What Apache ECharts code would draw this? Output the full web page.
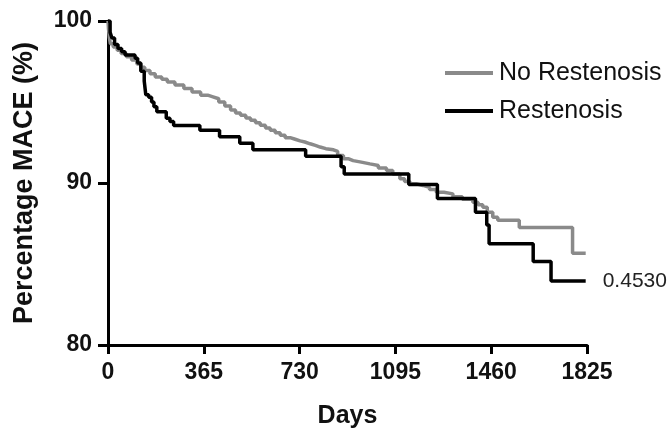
<!DOCTYPE html>
<html>
<head>
<meta charset="utf-8">
<script src="https://cdn.jsdelivr.net/npm/echarts@6/dist/echarts.min.js"></script>
<style>html,body{margin:0;padding:0;background:#fff}#c{width:670px;height:431px}</style>
</head>
<body>
<div id="c"></div>
<script>
var xTicks = [0, 365, 730, 1095, 1460, 1825];
var yTicks = [80, 90, 100];
var seriesNames = ['No Restenosis', 'Restenosis'];
var pValueText = '0.4530';

var noRestDays = [0, 2, 5, 9, 20, 35, 50, 70, 90, 110, 125, 140, 160, 180, 205, 226, 255, 289, 320, 353, 380, 400, 422, 445, 467, 486, 505, 525, 543, 562, 580, 600, 618, 637, 656, 675, 694, 713, 732, 750, 770, 790, 808, 830, 859, 875, 897, 915, 934, 965, 998, 1030, 1061, 1085, 1112, 1130, 1150, 1175, 1200, 1225, 1251, 1280, 1314, 1350, 1390, 1410, 1428, 1445, 1466, 1485, 1567, 1770, 1820];
var noRestVals = [100, 99.5, 99.0, 98.6, 98.4, 98.2, 98.0, 97.8, 97.6, 97.35, 97.15, 96.95, 96.75, 96.55, 96.4, 96.24, 96.05, 95.83, 95.62, 95.42, 95.32, 95.2, 95.0, 94.75, 94.5, 94.32, 94.18, 94.02, 93.87, 93.72, 93.56, 93.4, 93.25, 93.1, 92.94, 92.8, 92.7, 92.6, 92.53, 92.42, 92.32, 92.22, 92.12, 92.05, 91.95, 91.7, 91.5, 91.38, 91.29, 91.18, 91.08, 90.93, 90.77, 90.55, 90.26, 90.1, 89.95, 89.85, 89.74, 89.6, 89.43, 89.33, 89.15, 89.0, 88.81, 88.65, 88.5, 88.2, 87.88, 87.7, 87.26, 85.66, 85.66];

var restDays = [0, 8, 15, 25, 38, 52, 65, 103, 113, 125, 138, 144, 155, 166, 175, 186, 222, 236, 250, 350, 425, 502, 552, 753, 888, 900, 1146, 1255, 1400, 1443, 1452, 1620, 1688, 1820];
var restVals = [100, 99.3, 98.95, 98.55, 98.3, 98.1, 97.9, 97.7, 97.4, 96.9, 96.3, 95.45, 95.3, 95.0, 94.7, 94.4, 94.0, 93.8, 93.55, 93.25, 92.85, 92.45, 92.05, 91.65, 91.0, 90.55, 89.9, 89.05, 88.2, 87.4, 86.25, 85.15, 83.95, 83.95];

function pairs(xs, ys) { return xs.map(function (x, i) { return [x, ys[i]]; }); }

var FONT = '"Liberation Sans", Arial, Helvetica, sans-serif';
var chart = echarts.init(document.getElementById('c'), null, { renderer: 'canvas' });
chart.setOption({
  animation: false,
  backgroundColor: '#fff',
  textStyle: { fontFamily: FONT },
  grid: { left: 108, right: 83, top: 21, bottom: 86, containLabel: false, outerBoundsMode: 'none' },
  legend: {
    orient: 'vertical',
    left: 440,
    top: 54,
    itemWidth: 48,
    itemHeight: 4,
    itemGap: 10,
    icon: 'rect',
    data: seriesNames,
    textStyle: { fontFamily: FONT, fontSize: 25, color: '#111', lineHeight: 28, padding: [0, 0, 0, 1] }
  },
  xAxis: {
    type: 'value', min: 0, max: 1825, interval: 365,
    name: 'Days', nameLocation: 'middle', nameGap: 59,
    nameTextStyle: { fontFamily: FONT, fontSize: 25, fontWeight: 'bold', color: '#111' },
    axisLine: { onZero: false, lineStyle: { color: '#000', width: 3 } },
    axisTick: { show: true, length: 9, lineStyle: { color: '#000', width: 3 } },
    axisLabel: { margin: 16, fontFamily: FONT, fontSize: 23, fontWeight: 'bold', color: '#111',
      formatter: function (v) { return xTicks.indexOf(v) >= 0 ? String(v) : ''; } },
    splitLine: { show: false }
  },
  yAxis: {
    type: 'value', min: 80, max: 100, interval: 10,
    name: 'Percentage MACE (%)', nameLocation: 'middle', nameGap: 70,
    nameTextStyle: { fontFamily: FONT, fontSize: 27, fontWeight: 'bold', color: '#111' },
    axisLine: { show: true, onZero: false, lineStyle: { color: '#000', width: 3 } },
    axisTick: { show: true, length: 10, lineStyle: { color: '#000', width: 3 } },
    axisLabel: { margin: 16, fontFamily: FONT, fontSize: 23, fontWeight: 'bold', color: '#111',
      formatter: function (v) { return yTicks.indexOf(v) >= 0 ? String(v) : ''; } },
    splitLine: { show: false }
  },
  series: [
    {
      name: seriesNames[0], type: 'line', step: 'end', showSymbol: false, z: 2,
      data: pairs(noRestDays, noRestVals),
      itemStyle: { color: '#8a8a8a' },
      lineStyle: { color: '#8a8a8a', width: 3.5 }
    },
    {
      name: seriesNames[1], type: 'line', step: 'end', showSymbol: false, z: 3,
      data: pairs(restDays, restVals),
      itemStyle: { color: '#000' },
      lineStyle: { color: '#000', width: 3.5 },
      endLabel: { show: true, formatter: pValueText, distance: 17, fontFamily: FONT, fontSize: 21, color: '#222' }
    }
  ]
});
</script>
</body>
</html>
